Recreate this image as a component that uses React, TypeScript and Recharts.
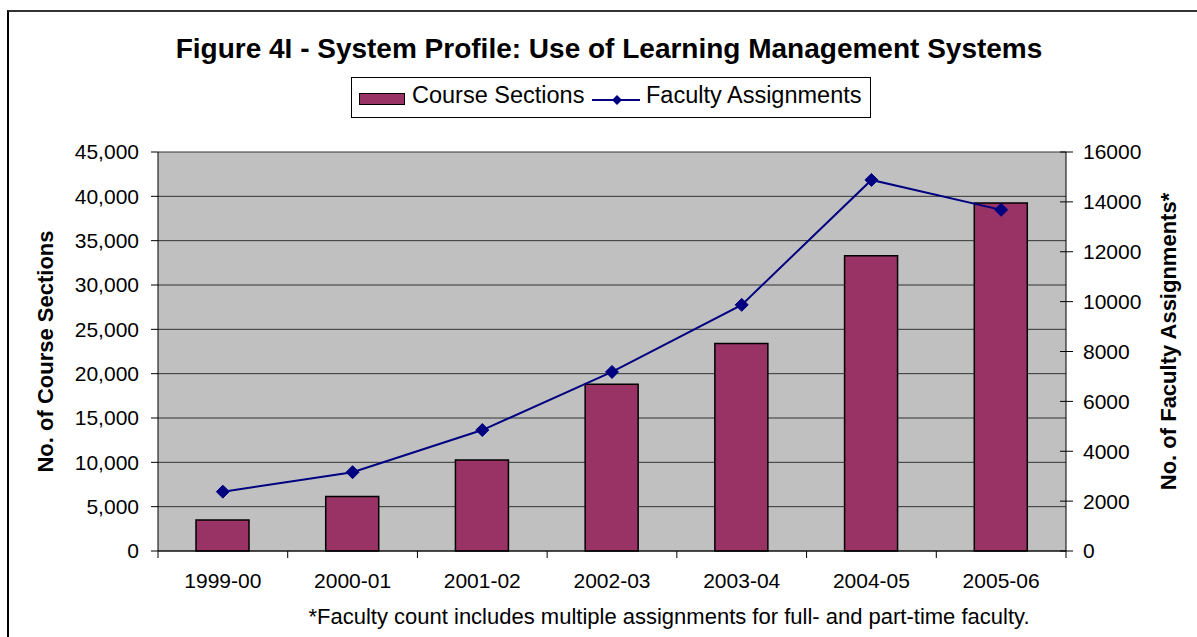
import {
  ComposedChart,
  Bar,
  Line,
  XAxis,
  YAxis,
  CartesianGrid,
} from "recharts";

// data
const categories = ["1999-00", "2000-01", "2001-02", "2002-03", "2003-04", "2004-05", "2005-06"];
const courseSections = [3500, 6150, 10250, 18800, 23400, 33300, 39250];
const facultyAssignments = [2380, 3160, 4850, 7180, 9870, 14880, 13680];
const leftTicks = [0, 5000, 10000, 15000, 20000, 25000, 30000, 35000, 40000, 45000];
const rightTicks = [0, 2000, 4000, 6000, 8000, 10000, 12000, 14000, 16000];

const data = categories.map((year, i) => ({
  year,
  sections: courseSections[i],
  faculty: facultyAssignments[i],
}));

const FONT = "'Liberation Sans', Arial, sans-serif";
const W = 1197;
const H = 637;
const LEFT_W = 158;
const RIGHT_W = 131;
const BAND = (W - LEFT_W - RIGHT_W) / categories.length;

const XTick = (props: any) => {
  const { x, y, payload } = props;
  const idx = categories.indexOf(payload.value);
  const axisY = y - 22;
  return (
    <g>
      <line x1={x - BAND / 2} x2={x - BAND / 2} y1={axisY} y2={axisY + 7} stroke="#000" />
      {idx === categories.length - 1 && (
        <line x1={x + BAND / 2} x2={x + BAND / 2} y1={axisY} y2={axisY + 7} stroke="#000" />
      )}
      <text x={x} y={y} dy="0.71em" textAnchor="middle" fontSize={21} fontFamily={FONT} fill="#000">
        {payload.value}
      </text>
    </g>
  );
};

const RightTick = (props: any) => {
  const { x, y, payload } = props;
  const axisX = x - 17;
  return (
    <g>
      <line x1={axisX - 6} x2={axisX + 7} y1={y} y2={y} stroke="#000" />
      <text x={x} y={y} dy="0.355em" textAnchor="start" fontSize={21} fontFamily={FONT} fill="#000">
        {payload.value}
      </text>
    </g>
  );
};

const Diamond = (props: any) => {
  const { cx, cy } = props;
  if (cx == null || cy == null) return null;
  const r = 6.5;
  return (
    <polygon
      points={`${cx},${cy - r} ${cx + r},${cy} ${cx},${cy + r} ${cx - r},${cy}`}
      fill="#000080"
      stroke="#000080"
    />
  );
};

const verticalTitle = (text: string, cx: number, shift: number) => (props: any) => {
  const vb = props.viewBox || {};
  const cy = (vb.y ?? 152) + (vb.height ?? 399) / 2 + shift;
  return (
    <text
      x={cx}
      y={cy}
      transform={`rotate(-90 ${cx} ${cy})`}
      textAnchor="middle"
      dominantBaseline="central"
      fontSize={22}
      fontWeight="bold"
      fontFamily={FONT}
      fill="#000"
    >
      {text}
    </text>
  );
};

export default function App() {
  return (
    <div
      style={{
        position: "absolute",
        left: 0,
        top: 0,
        width: W,
        height: H,
        overflow: "hidden",
        background: "#fff",
        fontFamily: FONT,
        color: "#000",
      }}
    >
      {/* chart frame, runs off the right and bottom */}
      <div
        style={{
          position: "absolute",
          left: 7,
          top: 10,
          width: 1400,
          height: 800,
          borderLeft: "2px solid #000",
          borderTop: "2px solid #333",
        }}
      />

      <div
        style={{
          position: "absolute",
          left: 109,
          top: 35,
          width: 1000,
          textAlign: "center",
          fontSize: 28,
          lineHeight: "28px",
          fontWeight: "bold",
          whiteSpace: "nowrap",
        }}
      >
        Figure 4I - System Profile: Use of Learning Management Systems
      </div>

      {/* legend */}
      <div
        style={{
          position: "absolute",
          left: 351,
          top: 77,
          width: 520,
          height: 41,
          border: "1px solid #000",
          boxSizing: "border-box",
          background: "#fff",
        }}
      >
        <div
          style={{
            position: "absolute",
            left: 7,
            top: 15,
            width: 46,
            height: 12,
            background: "#993366",
            border: "1.5px solid #000",
            boxSizing: "border-box",
          }}
        />
        <div style={{ position: "absolute", left: 60, top: 6, fontSize: 23.5, lineHeight: "23.5px", whiteSpace: "nowrap" }}>
          Course Sections
        </div>
        <svg style={{ position: "absolute", left: 240, top: 14 }} width={50} height={16}>
          <line x1={0} x2={48} y1={8} y2={8} stroke="#000080" strokeWidth={2} />
          <polygon points="25,3 30,8 25,13 20,8" fill="#000080" />
        </svg>
        <div style={{ position: "absolute", left: 294, top: 6, fontSize: 23.5, lineHeight: "23.5px", whiteSpace: "nowrap" }}>
          Faculty Assignments
        </div>
      </div>

      <div style={{ position: "absolute", left: 0, top: 0 }}>
        <ComposedChart width={W} height={H} data={data} margin={{ top: 152, right: 0, bottom: 0, left: 0 }}>
          <CartesianGrid yAxisId="left" vertical={false} stroke="#333" fill="#C0C0C0" />
          <XAxis
            dataKey="year"
            height={86}
            interval={0}
            axisLine={{ stroke: "#000" }}
            tickLine={false}
            tickSize={7}
            tickMargin={15}
            tick={<XTick />}
          />
          <YAxis
            yAxisId="left"
            width={LEFT_W}
            domain={[0, 45000]}
            ticks={leftTicks}
            interval={0}
            tickFormatter={(v: number) => v.toLocaleString("en-US")}
            axisLine={{ stroke: "#000" }}
            tickLine={{ stroke: "#000" }}
            tickSize={7}
            tickMargin={12}
            tick={{ fill: "#000", fontSize: 21, fontFamily: FONT }}
            label={{ content: verticalTitle("No. of Course Sections", 45, 0) }}
          />
          <YAxis
            yAxisId="right"
            orientation="right"
            width={RIGHT_W}
            domain={[0, 16000]}
            ticks={rightTicks}
            interval={0}
            axisLine={{ stroke: "#000" }}
            tickLine={false}
            tickSize={7}
            tickMargin={10}
            tick={<RightTick />}
            label={{ content: verticalTitle("No. of Faculty Assignments*", 1168, -10) }}
          />
          <Bar
            yAxisId="left"
            dataKey="sections"
            name="Course Sections"
            fill="#993366"
            stroke="#000"
            strokeWidth={1.5}
            barSize={53}
            isAnimationActive={false}
          />
          <Line
            yAxisId="right"
            dataKey="faculty"
            name="Faculty Assignments"
            type="linear"
            stroke="#000080"
            strokeWidth={2}
            dot={<Diamond />}
            activeDot={false}
            isAnimationActive={false}
          />
        </ComposedChart>
      </div>

      <div
        style={{
          position: "absolute",
          left: 169,
          top: 606,
          width: 1000,
          textAlign: "center",
          fontSize: 22,
          lineHeight: "22px",
          whiteSpace: "nowrap",
        }}
      >
        *Faculty count includes multiple assignments for full- and part-time faculty.
      </div>
    </div>
  );
}
